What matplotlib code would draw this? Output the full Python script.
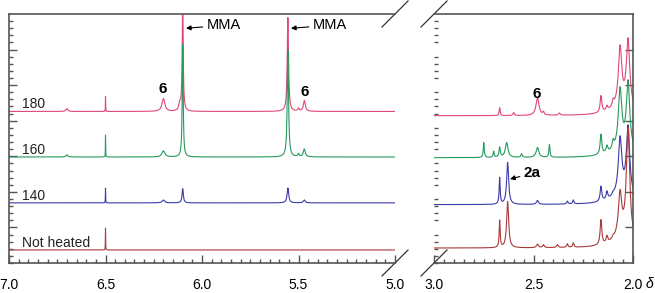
import numpy as np
import matplotlib
matplotlib.use("Agg")
import matplotlib.pyplot as plt

plt.rcParams['font.family'] = ['Liberation Sans', 'DejaVu Sans']

# ---------- data: traces (ppm, height, half-width) ----------
labels = ["180", "160", "140", "Not heated"]
colors = ["#e0467a", "#27995e", "#3b3ba8", "#a83a3a"]

# 7.0 - 5.0 ppm window
left_base = [21.3, 14.9, 8.45, 1.83]
left_180 = [(6.70, 0.4, 0.006), (6.50, 2.1, 0.0007), (6.20, 1.8, 0.009),
            (6.115, 1.0, 0.006), (6.10, 16.0, 0.003), (5.555, 13.2, 0.004),
            (5.50, 0.4, 0.004), (5.47, 1.5, 0.006)]
left_160 = [(6.70, 0.3, 0.006), (6.50, 3.1, 0.0007), (6.20, 0.85, 0.009),
            (6.10, 15.8, 0.003), (5.555, 15.1, 0.004),
            (5.50, 0.4, 0.004), (5.47, 1.1, 0.006)]
left_140 = [(6.50, 2.1, 0.0007), (6.20, 0.4, 0.008), (6.10, 2.0, 0.004),
            (5.555, 2.1, 0.005), (5.47, 0.4, 0.006)]
left_nh = [(6.50, 3.1, 0.0007)]

# 3.0 - 2.0 ppm window
right_base = [20.7, 14.8, 8.2, 2.1]
right_180 = [(2.67, 1.1, 0.003), (2.60, 0.4, 0.004), (2.48, 2.5, 0.009),
             (2.45, 0.4, 0.004), (2.37, 0.3, 0.005), (2.161, 2.35, 0.005),
             (2.131, 0.6, 0.005), (2.10, 0.8, 0.005), (2.065, 8.0, 0.010),
             (2.025, 9.2, 0.010), (2.05, 1.5, 0.06)]
right_160 = [(2.75, 2.1, 0.003), (2.70, 0.85, 0.003), (2.67, 1.4, 0.004),
             (2.635, 2.1, 0.008), (2.56, 0.5, 0.004), (2.48, 1.4, 0.008),
             (2.42, 1.8, 0.003), (2.161, 2.8, 0.005), (2.131, 0.9, 0.005),
             (2.10, 1.0, 0.005), (2.065, 8.0, 0.010), (2.025, 9.2, 0.010),
             (2.05, 1.5, 0.06)]
right_140 = [(2.67, 3.7, 0.003), (2.63, 5.9, 0.006), (2.48, 0.55, 0.006),
             (2.33, 0.4, 0.004), (2.30, 0.55, 0.004), (2.161, 2.1, 0.005),
             (2.131, 1.1, 0.005), (2.10, 0.3, 0.005), (2.065, 7.7, 0.010),
             (2.025, 9.5, 0.010), (2.05, 1.5, 0.06)]
right_nh = [(2.67, 3.8, 0.003), (2.63, 6.5, 0.006), (2.48, 0.5, 0.006),
            (2.45, 0.4, 0.005), (2.38, 0.4, 0.005), (2.33, 0.5, 0.004),
            (2.30, 0.6, 0.004), (2.161, 3.5, 0.005), (2.131, 0.9, 0.005),
            (2.10, 0.3, 0.005), (2.065, 5.9, 0.010), (2.025, 15.3, 0.010),
            (2.05, 1.5, 0.06)]

left_peaks = [left_180, left_160, left_140, left_nh]
right_peaks = [right_180, right_160, right_140, right_nh]


def spectrum(x, base, peaks):
    y = np.full_like(x, base)
    for p, h, w in peaks:
        y += h / (1 + ((x - p) / w) ** 2)
    return y


# ---------- figure ----------
W, H = 655, 293
fig = plt.figure(figsize=(W / 100, H / 100), dpi=100)
ax1 = fig.add_axes([9 / W, 30 / H, 386 / W, 249 / H])
ax2 = fig.add_axes([434 / W, 30 / H, 199 / W, 249 / H])

xl = np.linspace(7.0, 5.0, 8000)
xr = np.linspace(3.0, 2.0, 5000)
for i in range(4):
    ax1.plot(xl, spectrum(xl, left_base[i], left_peaks[i]), color=colors[i], lw=0.8)
    ax2.plot(xr, spectrum(xr, right_base[i], right_peaks[i]), color=colors[i], lw=0.8)
    ax1.text(6.935, left_base[i] + 1.0, labels[i], fontsize=10, color="#222",
             ha="left", va="center")

spine_c = "#555555"
for ax, xlim, ticks in [(ax1, (7.0, 5.0), [7.0, 6.5, 6.0, 5.5, 5.0]),
                        (ax2, (3.0, 2.0), [3.0, 2.5, 2.0])]:
    ax.set_xlim(*xlim)
    ax.set_ylim(0, 35)
    ax.set_xticks(ticks)
    ax.set_xticklabels([f"{t:.1f}" for t in ticks])
    ax.set_xticks(np.arange(xlim[1], xlim[0] + 1e-6, 0.05), minor=True)
    ax.set_yticks(np.arange(5, 35, 5))
    ax.set_yticks(np.arange(0, 35, 1), minor=True)
    ax.tick_params(which="both", direction="in", color=spine_c, width=1,
                   labelsize=10, pad=11)
    ax.tick_params(which="major", length=6)
    ax.tick_params(which="minor", length=3)
    for s in ax.spines.values():
        s.set_color(spine_c)
        s.set_linewidth(1.2)

ax1.spines["right"].set_visible(False)
ax1.tick_params(axis="y", left=True, right=False, labelleft=False)
ax2.spines["left"].set_visible(False)
ax2.tick_params(axis="y", left=False, right=True, labelleft=False)

# break marks
dx, dy = 13 / 386, 13 / 249
kw = dict(color="#333", lw=0.9, clip_on=False)
for yy in (0, 1):
    ax1.plot([1 - dx, 1 + dx], [yy - dy, yy + dy], transform=ax1.transAxes, **kw)
dx2 = 13 / 199
for yy in (0, 1):
    ax2.plot([-dx2, dx2], [yy - dy, yy + dy], transform=ax2.transAxes, **kw)

ax2.text(1.085, -0.085, "δ", transform=ax2.transAxes, fontsize=10,
         style="italic", ha="center", va="center")

# annotations
arrow = dict(arrowstyle="-|>", color="black", lw=0.8, mutation_scale=7,
             shrinkA=1, shrinkB=0)
ax1.annotate("MMA", xy=(6.083, 33.0), xytext=(5.975, 33.4), fontsize=10.5,
             ha="left", va="center", arrowprops=arrow)
ax1.annotate("MMA", xy=(5.539, 33.0), xytext=(5.425, 33.4), fontsize=10.5,
             ha="left", va="center", arrowprops=arrow)
ax1.text(6.202, 24.4, "6", fontsize=11, fontweight="bold", ha="center", va="center")
ax1.text(5.466, 24.0, "6", fontsize=11, fontweight="bold", ha="center", va="center")
ax2.text(2.482, 23.8, "6", fontsize=11, fontweight="bold", ha="center", va="center")
ax2.annotate("2a", xy=(2.618, 11.8), xytext=(2.548, 12.6), fontsize=11,
             fontweight="bold", ha="left", va="center", arrowprops=arrow)

fig.savefig("out.png", dpi=100)
